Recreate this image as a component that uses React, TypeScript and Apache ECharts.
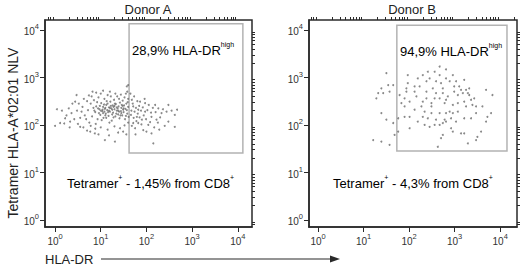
import React, { useEffect, useRef } from 'react';
import * as echarts from 'echarts';

// ---- text ----
const TITLES = ['Donor A', 'Donor B'];
const GATE_PCT = ['28,9%', '94,9%'];
const FREQ_PCT = ['1,45%', '4,3%'];
const Y_NAME = 'Tetramer HLA-A*02:01 NLV';
const X_NAME = 'HLA-DR';

// ---- axis ticks (log10 units) ----
const DECADES = [0, 1, 2, 3, 4];
const MINOR_FACTORS = [2, 3, 4, 5, 6, 7, 8, 9];
const X_RANGE_A = [-0.22, 4.31];
const X_RANGE_B = [-0.2, 4.37];
const Y_RANGE = [-0.15, 4.21];

// ---- gates (log10 units) ----
const GATE_A_X = [1.62, 4.11];
const GATE_A_Y = [1.41, 4.13];
const GATE_B_X = [1.73, 4.15];
const GATE_B_Y = [1.45, 4.1];

// ---- events (log10 HLA-DR, log10 tetramer) ----
const DONOR_A: number[][] = [
  [0.72,2.31],[0.78,2.45],[0.81,2.18],[0.85,2.52],[0.88,2.27],[0.9,2.39],[0.93,2.12],[0.95,2.58],[0.97,2.33],[0.99,2.21],
  [1.01,2.46],[1.03,2.29],[1.05,2.38],[1.06,2.15],[1.08,2.55],[1.09,2.34],[1.11,2.24],[1.12,2.42],[1.14,2.31],[1.15,2.63],
  [1.17,2.19],[1.18,2.37],[1.2,2.28],[1.21,2.49],[1.23,2.35],[1.24,2.09],[1.26,2.41],[1.27,2.26],[1.29,2.53],[1.3,2.33],
  [1.32,2.18],[1.33,2.44],[1.35,2.3],[1.36,2.6],[1.38,2.22],[1.39,2.39],[1.41,2.14],[1.42,2.47],[1.44,2.29],[1.45,2.36],
  [1.47,2.2],[1.48,2.51],[1.5,2.27],[1.51,2.41],[1.53,2.12],[1.54,2.34],[1.56,2.45],[1.58,2.24],[1.6,2.38],[1.61,2.17],
  [0.75,2.05],[0.8,2.6],[0.84,2.36],[0.89,2.02],[0.92,2.48],[0.96,2.25],[1.0,2.66],[1.02,2.1],[1.04,2.32],[1.07,2.43],
  [1.1,2.2],[1.13,2.5],[1.16,2.27],[1.19,2.05],[1.22,2.4],[1.25,2.32],[1.28,2.16],[1.31,2.45],[1.34,2.24],[1.37,2.35],
  [1.4,2.55],[1.43,2.2],[1.46,2.42],[1.49,2.32],[1.52,2.58],[1.55,2.19],[1.57,2.31],[1.59,2.48],[1.6,2.05],[1.1,2.36],
  [0.98,2.4],[1.05,2.25],[1.15,2.45],[1.2,2.36],[1.25,2.22],[1.3,2.4],[1.35,2.37],[1.4,2.28],[1.45,2.25],[1.5,2.35],
  [0.86,2.3],[0.94,2.35],[1.0,2.3],[1.08,2.28],[1.18,2.3],[1.28,2.38],[1.38,2.3],[1.48,2.4],[1.12,2.15],[1.22,2.6],
  [0.7,2.5],[0.65,2.2],[0.6,2.38],[0.68,2.12],[0.58,2.28],[0.63,2.55],[0.74,2.62],[0.82,2.7],[0.9,2.68],[1.05,2.72],
  [1.2,2.7],[1.32,2.66],[1.44,2.64],[1.55,2.66],[0.78,1.98],[0.88,1.92],[1.0,1.95],[1.15,1.9],[1.3,1.97],[1.42,1.93],
  [1.52,1.99],[1.6,2.55],[1.58,2.7],[0.52,2.45],[0.55,2.15],[0.48,2.3],[0.42,2.12],[0.5,2.02],[0.62,1.95],[0.7,1.88],
  [0.95,1.8],[1.18,1.78],[1.38,1.84],[1.56,1.8],[0.3,2.35],[0.25,2.2],[0.38,2.45],[0.2,2.03],[0.15,2.3],[0.32,1.95],
  [0.04,2.33],[0.0,1.98],[0.11,2.04],[0.22,2.14],[0.36,2.25],[0.33,2.07],[0.47,2.63],[0.44,2.49],[0.55,1.96],[0.77,1.86],
  [0.87,1.82],[1.09,1.68],[1.31,1.65],[1.57,2.81],[1.49,1.86],[1.6,2.84],
  [1.71,2.04],[1.75,1.93],[1.93,1.89],[2.0,1.86],[2.11,1.82],[2.15,1.61],[1.86,2.49],[1.97,2.46],[2.19,2.42],[2.26,2.35],
  [2.48,2.42],[2.62,2.21],[2.48,2.07],[2.62,1.96],[2.11,2.17],[1.97,2.28],[1.82,2.32],[1.71,2.39],[1.79,2.17],[1.66,2.21],
  [1.68,2.53],[1.82,2.04],[1.9,2.11],[2.04,2.0],[2.22,2.11],[2.33,2.25],
  [1.67,2.3],[1.7,2.45],[1.72,2.15],[1.74,2.28],[1.77,2.36],[1.78,2.08],[1.8,2.5],[1.81,2.24],[1.84,2.4],[1.85,2.16],
  [1.88,2.3],[1.89,2.01],[1.92,2.37],[1.94,2.2],[1.96,2.55],[1.99,2.12],[2.02,2.31],[2.05,2.42],[2.08,2.06],[2.1,2.26],
  [2.14,2.36],[2.17,1.95],[2.2,2.27],[2.25,2.05],[2.3,2.16],[2.36,2.33],[2.4,1.98],[2.44,2.28],[2.55,2.3],[2.67,2.32],
  [1.68,1.98],[1.76,1.8],[2.28,1.9],[1.65,2.66],[1.73,2.6],
];

const DONOR_B: number[][] = [
  [1.5,3.09],[1.39,2.77],[1.32,2.67],[1.43,2.67],[1.57,2.7],[1.65,2.84],[1.54,2.84],[1.28,2.56],[1.39,2.25],[1.5,2.11],
  [1.21,1.68],[1.39,1.65],[1.57,1.58],[1.65,2.04],[1.68,1.79],
  [1.97,3.05],[2.41,3.12],[2.67,3.05],[2.81,3.17],[2.45,2.98],[2.19,2.98],[1.97,2.88],[1.94,2.77],[1.94,2.7],[2.12,2.81],
  [2.38,2.92],[2.59,2.92],[2.7,2.88],[2.89,2.92],[3.03,2.92],[3.21,2.95],[2.99,2.81],[3.1,2.81],[3.25,2.74],[3.29,2.67],
  [3.18,2.67],[3.36,2.53],[3.43,2.56],[3.69,2.74],[3.83,2.63],[3.21,2.49],[3.07,2.46],[2.96,2.42],[2.74,2.67],[2.59,2.67],
  [2.38,2.56],[2.56,2.56],[2.67,2.56],[2.3,2.49],[2.01,2.49],[1.83,2.46],[1.9,2.39],[2.27,2.39],[2.49,2.39],[2.78,2.46],
  [2.89,2.28],[3.07,2.28],[3.25,2.39],[3.47,2.39],[2.34,2.28],[2.49,2.25],[2.67,2.25],[2.81,2.25],[2.96,2.25],[2.01,2.17],
  [1.9,2.17],[2.3,2.17],[2.41,2.14],[2.59,2.11],[2.78,2.11],[2.92,2.14],[3.03,2.07],[3.21,2.14],[3.36,2.14],[3.47,2.25],
  [3.8,2.25],[3.69,2.07],[2.34,2.0],[2.45,1.96],[2.56,2.0],[2.67,2.0],[2.74,2.04],[2.81,2.07],[2.01,1.93],[2.92,1.93],
  [2.96,1.86],[2.74,1.79],[2.7,1.72],[3.14,1.82],[3.21,1.82],[3.5,1.75],[3.58,1.86],[3.47,1.68],[3.29,1.61],[2.63,1.54],
  [1.76,1.86],[1.76,2.14],[1.79,2.63],[1.9,2.56],[2.12,2.7],[2.23,2.81],[2.56,3.12],[2.67,3.23],[2.3,3.05],[2.99,2.7],
  [3.07,2.63],[3.14,2.74],[3.32,2.63],[3.32,2.77],[3.39,2.42],[3.61,2.39],[3.72,2.17],[2.81,2.53],[2.85,2.6],[2.16,2.6],
  [2.19,2.07],[2.12,2.32],[2.49,2.46],[2.38,2.7],[2.52,2.77],[2.74,2.77],[2.81,2.98],[2.96,3.05],
];

const FONT = "'Liberation Sans', Arial, Helvetica, sans-serif";
const INK = '#2a2a2a';

function minorTicks(range: number[]): number[] {
  const out: number[] = [];
  for (let d = -1; d <= 4; d++) {
    for (const k of MINOR_FACTORS) {
      const v = d + Math.log10(k);
      if (v > range[0] + 0.01 && v < range[1] - 0.01) out.push(v);
    }
  }
  return out;
}

const tickRich = {
  b: { fontSize: 10, fontFamily: FONT, color: '#333', verticalAlign: 'bottom', lineHeight: 14 },
  s: { fontSize: 7.5, fontFamily: FONT, color: '#333', verticalAlign: 'top', lineHeight: 14 },
};

function majorAxis(gridIndex: number, range: number[], isX: boolean) {
  return {
    type: 'value',
    gridIndex,
    min: range[0],
    max: range[1],
    axisLine: { show: true, onZero: false, lineStyle: { color: INK, width: 1.5 } },
    axisTick: { show: true, customValues: DECADES, length: 5, lineStyle: { color: INK, width: 1 } },
    axisLabel: {
      show: true,
      customValues: DECADES,
      margin: isX ? 5 : 6,
      formatter: (v: number) => `{b|10}{s|${Math.round(v)}}`,
      rich: tickRich,
    },
    splitLine: { show: false },
  };
}

function minorAxis(gridIndex: number, range: number[]) {
  return {
    type: 'value',
    gridIndex,
    min: range[0],
    max: range[1],
    axisLine: { show: false, onZero: false },
    axisTick: { show: true, customValues: minorTicks(range), length: 3, lineStyle: { color: INK, width: 1 } },
    axisLabel: { show: false },
    splitLine: { show: false },
  };
}

function gateArea(gx: number[], gy: number[]) {
  return {
    silent: true,
    itemStyle: { color: 'rgba(0,0,0,0)', borderColor: '#b3b3b3', borderWidth: 1.5 },
    data: [[{ xAxis: gx[0], yAxis: gy[0] }, { xAxis: gx[1], yAxis: gy[1] }]],
  };
}

const annoRich = {
  n: { fontSize: 13, fontFamily: FONT, color: '#222', verticalAlign: 'bottom', lineHeight: 16 },
  s: { fontSize: 7, fontFamily: FONT, color: '#222', verticalAlign: 'top', lineHeight: 16 },
};

function anno(x: number, y: number, text: string) {
  return {
    type: 'text',
    x,
    y,
    style: { text, rich: annoRich, align: 'left', verticalAlign: 'middle' },
  };
}

export default function App() {
  const ref = useRef<HTMLDivElement>(null);
  useEffect(() => {
    if (!ref.current) return;
    const chart = echarts.init(ref.current, null, { renderer: 'svg' });
    const option = {
      animation: false,
      backgroundColor: '#ffffff',
      grid: [
        { left: 45, top: 20, width: 207, height: 207, show: true, borderColor: INK, borderWidth: 1.5, backgroundColor: 'transparent' },
        { left: 309, top: 20, width: 208, height: 207, show: true, borderColor: INK, borderWidth: 1.5, backgroundColor: 'transparent' },
      ],
      xAxis: [
        majorAxis(0, X_RANGE_A, true),
        minorAxis(0, X_RANGE_A),
        majorAxis(1, X_RANGE_B, true),
        minorAxis(1, X_RANGE_B),
      ],
      yAxis: [
        majorAxis(0, Y_RANGE, false),
        minorAxis(0, Y_RANGE),
        majorAxis(1, Y_RANGE, false),
        minorAxis(1, Y_RANGE),
      ],
      series: [
        {
          type: 'scatter',
          xAxisIndex: 0,
          yAxisIndex: 0,
          data: DONOR_A,
          symbolSize: 2,
          itemStyle: { color: '#6b6b6b' },
          markArea: gateArea(GATE_A_X, GATE_A_Y),
        },
        {
          type: 'scatter',
          xAxisIndex: 2,
          yAxisIndex: 2,
          data: DONOR_B,
          symbolSize: 2,
          itemStyle: { color: '#6b6b6b' },
          markArea: gateArea(GATE_B_X, GATE_B_Y),
        },
      ],
      graphic: [
        { type: 'text', x: 148, y: 9, style: { text: TITLES[0], fontSize: 13, fontFamily: FONT, fill: '#222', align: 'center', verticalAlign: 'middle' } },
        { type: 'text', x: 412, y: 9, style: { text: TITLES[1], fontSize: 13, fontFamily: FONT, fill: '#222', align: 'center', verticalAlign: 'middle' } },
        anno(132, 49, `{n|${GATE_PCT[0]} HLA-DR}{s|high}`),
        anno(400, 50, `{n|${GATE_PCT[1]} HLA-DR}{s|high}`),
        anno(67, 182, `{n|Tetramer}{s|+}{n| - ${FREQ_PCT[0]} from CD8}{s|+}`),
        anno(333, 182, `{n|Tetramer}{s|+}{n| - ${FREQ_PCT[1]} from CD8}{s|+}`),
        {
          type: 'text', x: 13, y: 133, rotation: Math.PI / 2,
          style: { text: Y_NAME, fontSize: 14, fontFamily: FONT, fill: '#222', align: 'center', verticalAlign: 'middle' },
        },
        {
          type: 'text', x: 45, y: 259,
          style: { text: X_NAME, fontSize: 13, fontFamily: FONT, fill: '#222', align: 'left', verticalAlign: 'middle' },
        },
        { type: 'line', shape: { x1: 101, y1: 259, x2: 332, y2: 259 }, style: { stroke: INK, lineWidth: 1.2 } },
        { type: 'polygon', shape: { points: [[330, 255.5], [340, 259], [330, 262.5]] }, style: { fill: INK } },
      ],
    };
    chart.setOption(option as any);
    return () => chart.dispose();
  }, []);
  return (
    <div
      ref={ref}
      style={{ position: 'fixed', left: 0, top: 0, width: 520, height: 267, background: '#fff' }}
    />
  );
}
